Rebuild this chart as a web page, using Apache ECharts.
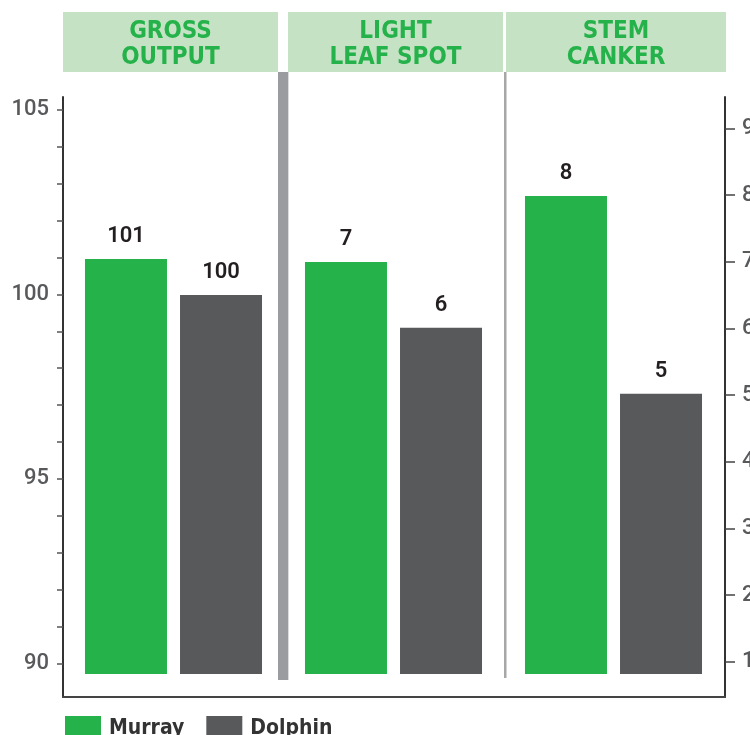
<!DOCTYPE html>
<html>
<head>
<meta charset="utf-8">
<script src="https://cdn.jsdelivr.net/npm/echarts@6/dist/echarts.min.js"></script>
<style>
  html, body { margin: 0; padding: 0; background: #fff; }
  #main { width: 750px; height: 735px; }
</style>
</head>
<body>
<div id="main"></div>
<script>
// 数据
const categories = ['GROSS\nOUTPUT', 'LIGHT\nLEAF SPOT', 'STEM\nCANKER']
const murray = [101, 7, 8]
const dolphin = [100, 6, 5]
const leftTicks = [90, 91, 92, 93, 94, 95, 96, 97, 98, 99, 100, 101, 102, 103, 104, 105]
const leftLabels = [90, 95, 100, 105]
const rightTicks = [1, 2, 3, 4, 5, 6, 7, 8, 9]

const green = '#25b24a'
const grey = '#58595b'
const condensed = "'Liberation Sans Narrow', 'DejaVu Sans Condensed', sans-serif"

// first category on the left axis, the other two on the right axis
const onlyFirst = (arr) => arr.map((v, i) => (i === 0 ? v : '-'))
const exceptFirst = (arr) => arr.map((v, i) => (i === 0 ? '-' : v))

// header boxes
const headerBoxes = [[63, 278], [288, 503], [506, 726]]
const headerGraphics = []
categories.forEach((c, i) => {
  const [x0, x1] = headerBoxes[i]
  headerGraphics.push({
    type: 'rect',
    shape: { x: x0, y: 12, width: x1 - x0, height: 60 },
    style: { fill: '#c5e3c4' }
  })
  headerGraphics.push({
    type: 'text',
    x: (x0 + x1) / 2,
    y: 45,
    style: {
      text: c,
      fill: green,
      font: 'bold 24px ' + condensed,
      lineHeight: 26,
      align: 'center',
      verticalAlign: 'middle'
    }
  })
})

const barLabel = {
  show: true,
  position: 'top',
  distance: 11,
  color: '#231f20',
  fontSize: 22,
  fontWeight: 600,
  fontFamily: 'Roboto, sans-serif'
}

const axisFont = { fontSize: 22, fontWeight: 500, color: grey, fontFamily: 'Roboto, sans-serif' }

const option = {
  animation: false,
  backgroundColor: '#fff',
  legend: {
    data: ['Murray', 'Dolphin'],
    left: 65,
    top: 716,
    padding: 0,
    icon: 'rect',
    itemWidth: 36,
    itemHeight: 26,
    itemGap: 22,
    textStyle: {
      fontSize: 21,
      fontWeight: 'bold',
      fontFamily: condensed,
      color: '#333',
      padding: [0, 0, 0, 3]
    }
  },
  grid: [
    // frame with both axes
    { left: 63, top: 97, width: 662, height: 600, outerBoundsMode: 'none' },
    // gross output bars
    { left: 63.5, top: 115, width: 660, height: 559, outerBoundsMode: 'none' },
    // disease bars
    { left: 63.5, top: 130, width: 660, height: 544, outerBoundsMode: 'none' }
  ],
  xAxis: [
    {
      gridIndex: 0, type: 'category', data: categories,
      axisLine: { show: true, onZero: false, lineStyle: { color: '#444', width: 2 } },
      axisTick: { show: false }, axisLabel: { show: false }
    },
    { gridIndex: 1, type: 'category', data: categories, show: false },
    { gridIndex: 2, type: 'category', data: categories, show: false }
  ],
  yAxis: [
    {
      gridIndex: 0, type: 'value', position: 'left', min: 89.09, max: 105.35,
      axisLine: { show: true, lineStyle: { color: '#333', width: 2 } },
      axisTick: { show: true, length: 6, customValues: leftTicks, lineStyle: { color: '#555', width: 1.5 } },
      axisLabel: Object.assign({ customValues: leftLabels, margin: 14 }, axisFont),
      splitLine: { show: false }
    },
    {
      gridIndex: 0, type: 'value', position: 'right', min: 0.47, max: 9.47,
      axisLine: { show: true, lineStyle: { color: '#333', width: 2 } },
      axisTick: { show: true, length: 10, customValues: rightTicks, lineStyle: { color: '#444', width: 1.5 } },
      axisLabel: Object.assign({ customValues: rightTicks, margin: 17 }, axisFont),
      splitLine: { show: false }
    },
    { gridIndex: 1, type: 'value', min: 89.47, max: 105, show: false, splitLine: { show: false } },
    { gridIndex: 2, type: 'value', min: 0.75, max: 9, show: false, splitLine: { show: false } }
  ],
  series: [
    {
      name: 'Murray', type: 'bar', xAxisIndex: 1, yAxisIndex: 2,
      data: onlyFirst(murray), barWidth: 82, barGap: '15.9%',
      itemStyle: { color: green }, label: barLabel
    },
    {
      name: 'Dolphin', type: 'bar', xAxisIndex: 1, yAxisIndex: 2,
      data: onlyFirst(dolphin), barWidth: 82, barGap: '15.9%',
      itemStyle: { color: grey }, label: barLabel
    },
    {
      name: 'Murray', type: 'bar', xAxisIndex: 2, yAxisIndex: 3,
      data: exceptFirst(murray), barWidth: 82, barGap: '15.9%',
      itemStyle: { color: green }, label: barLabel
    },
    {
      name: 'Dolphin', type: 'bar', xAxisIndex: 2, yAxisIndex: 3,
      data: exceptFirst(dolphin), barWidth: 82, barGap: '15.9%',
      itemStyle: { color: grey }, label: barLabel
    }
  ],
  graphic: [
    ...headerGraphics,
    // separators between the panels
    { type: 'rect', shape: { x: 278, y: 72, width: 10, height: 608 }, style: { fill: '#9b9ca0' } },
    { type: 'rect', shape: { x: 288, y: 72, width: 1, height: 608 }, style: { fill: '#dcdcdd' } },
    { type: 'rect', shape: { x: 504, y: 72, width: 2.5, height: 606 }, style: { fill: '#a7a7aa' } }
  ]
}

const chart = echarts.init(document.getElementById('main'), null, { renderer: 'canvas' })
chart.setOption(option)
</script>
</body>
</html>
